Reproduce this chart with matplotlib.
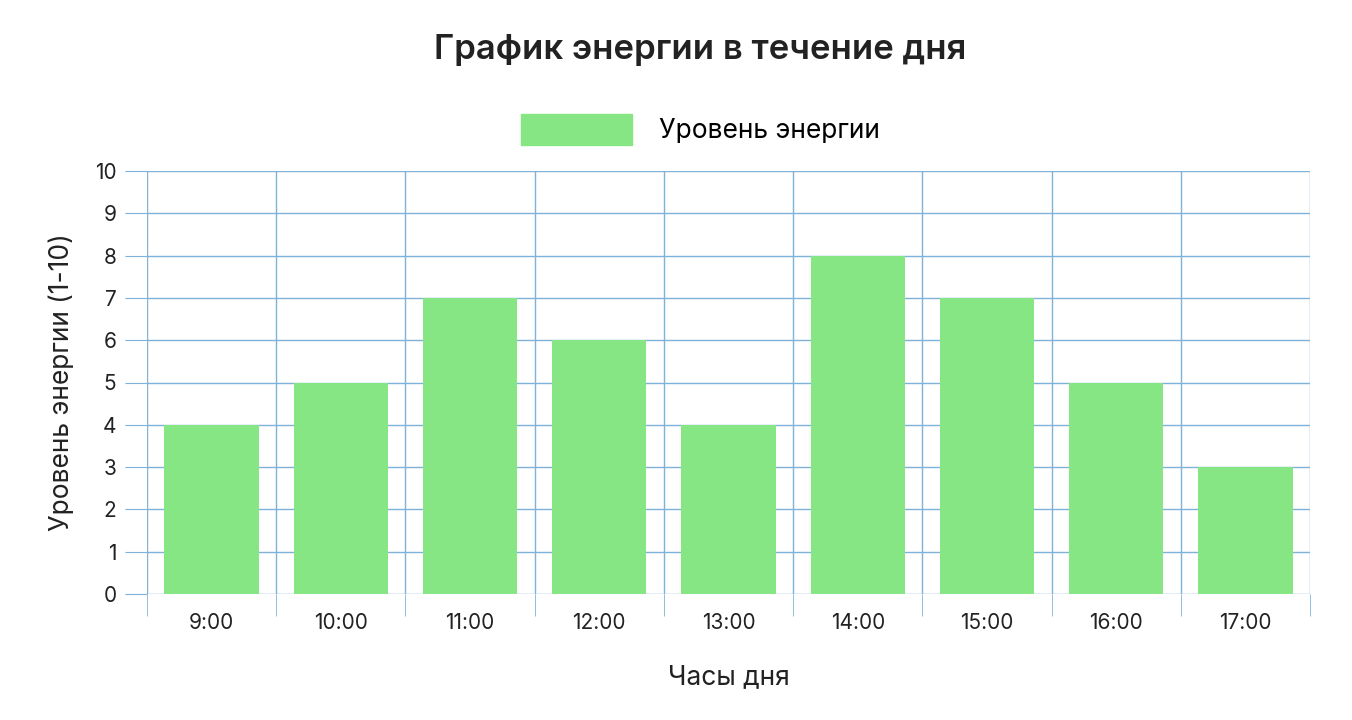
import matplotlib.pyplot as plt
from matplotlib.patches import Patch
import numpy as np

hours = ["9:00", "10:00", "11:00", "12:00", "13:00", "14:00", "15:00", "16:00", "17:00"]
energy = [4, 5, 7, 6, 4, 8, 7, 5, 3]

plt.rcParams['font.family'] = ['Inter', 'DejaVu Sans']
grid_color = '#7fb2d8'
bar_color = '#86e683'

fig = plt.figure(figsize=(13.52, 7.2), dpi=100)
ax = fig.add_axes([0.1087, 0.175, 0.8603, 0.5875])

x = np.arange(len(hours))
ax.bar(x, energy, width=0.73, color=bar_color, zorder=3)

ax.set_xlim(-0.5, len(hours) - 0.5)
ax.set_ylim(0, 10)
ax.set_yticks(range(0, 11))
ax.set_xticks(x)
ax.set_xticklabels(hours)
ax.set_xticks(np.arange(-0.5, len(hours)), minor=True)

ax.grid(True, which='minor', axis='x', color=grid_color, linewidth=1, zorder=0)
ax.grid(True, which='major', axis='y', color=grid_color, linewidth=1, zorder=0)
ax.tick_params(axis='x', which='major', length=0, pad=14, labelsize=15, colors='#222222')
ax.tick_params(axis='x', which='minor', length=16, color=grid_color)
ax.tick_params(axis='y', length=16, color=grid_color, labelsize=15, labelcolor='#222222', pad=6)
for s in ax.spines.values():
    s.set_visible(False)

ax.set_xlabel("Часы дня", fontsize=19, labelpad=22, color='#222222')
ax.set_ylabel("Уровень энергии (1-10)", fontsize=19, labelpad=14, color='#222222')

fig.text(0.518, 0.93, "График энергии в течение дня", ha='center', va='center',
         fontsize=25, fontweight='semibold', color='#222222')
fig.legend(handles=[Patch(color=bar_color, label="Уровень энергии")],
           loc='center', bbox_to_anchor=(0.518, 0.82), frameon=False,
           fontsize=19, handlelength=4.2, handleheight=1.4, handletextpad=1.0)

fig.savefig("out.png", dpi=100)
